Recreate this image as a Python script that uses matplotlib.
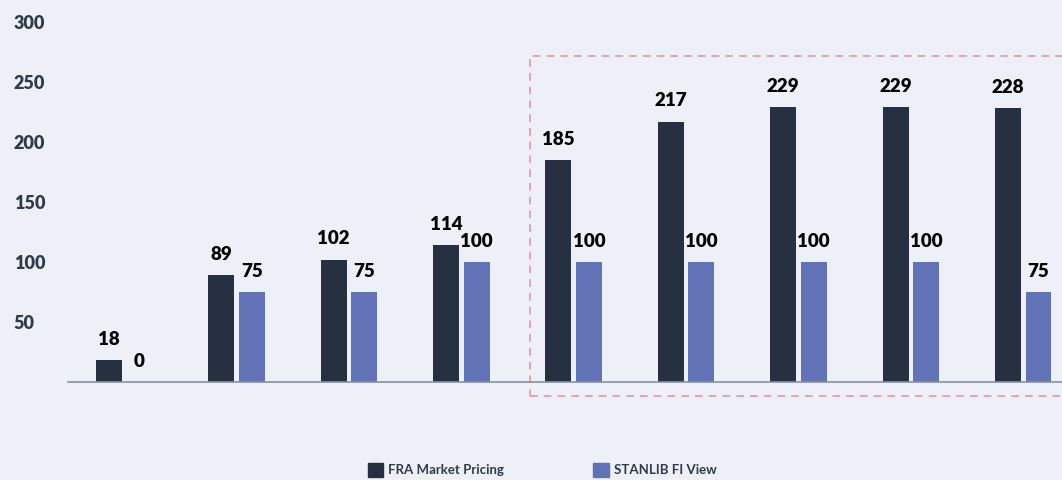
import matplotlib.pyplot as plt
from matplotlib.patches import Rectangle, Patch
import numpy as np

# chart values
groups = ['', '', '', '', '', '', '', '', '']
fra = [18, 89, 102, 114, 185, 217, 229, 229, 228]
stanlib = [0, 75, 75, 100, 100, 100, 100, 100, 75]
yticks = [50, 100, 150, 200, 250, 300]
series_names = ['FRA Market Pricing', 'STANLIB FI View']

bg = '#edf0f7'
dark = '#263040'
blue = '#6172b6'
txt = '#2f3a4a'

plt.rcParams['font.family'] = ['Lato', 'DejaVu Sans']

fig = plt.figure(figsize=(10.62, 4.8), dpi=100, facecolor=bg)
ax = fig.add_axes([68 / 1062, 1 - 382 / 480, 1 - 68 / 1062, 0.75])
ax.set_facecolor(bg)

x = np.arange(len(groups))
w = 0.231
off = 0.136
b1 = ax.bar(x - off, fra, w, color=dark)
b2 = ax.bar(x + off, stanlib, w, color=blue)

for bars, vals in ((b1, fra), (b2, stanlib)):
    for b, v in zip(bars, vals):
        ax.annotate(str(v), (b.get_x() + b.get_width() / 2, v),
                    xytext=(0, 15), textcoords='offset points',
                    ha='center', va='center', fontsize=13.5,
                    fontweight='heavy', color='black')

ax.set_xlim(-0.5, 8.345)
ax.set_ylim(0, 300)
ax.set_xticks([])
ax.set_yticks(yticks)
ax.set_yticklabels([str(t) for t in yticks], fontsize=13,
                   fontweight='heavy', color=txt, ha='left')
ax.tick_params(axis='y', length=0, pad=39)

for s in ('top', 'right', 'left'):
    ax.spines[s].set_visible(False)
ax.spines['bottom'].set_color('#8a909c')
ax.spines['bottom'].set_linewidth(1.2)

# highlighted forecast window
rect = Rectangle((3.61, -11.7), 6, 283.4, fill=False, edgecolor='#ea8d9c',
                 linestyle=(0, (5, 4)), linewidth=1.1, clip_on=False)
ax.add_patch(rect)

handles = [Patch(color=dark), Patch(color=blue)]
fig.legend(handles, series_names, loc='center', bbox_to_anchor=(542 / 1062, 0.021),
           ncol=2, frameon=False, handlelength=1.2,
           handleheight=1.2, handletextpad=0.38, columnspacing=6.7,
           labelcolor=txt, prop={'weight': 'bold', 'size': 9.5})

fig.savefig('out.png', dpi=100, facecolor=bg)
